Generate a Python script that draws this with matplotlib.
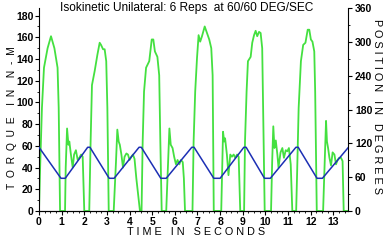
import matplotlib
matplotlib.use("Agg")
import matplotlib.pyplot as plt
from matplotlib.ticker import MultipleLocator

plt.rcParams['font.family'] = ['Liberation Sans', 'DejaVu Sans']

# torque trace (time in s, torque in N-M)
torque_t = [0.0, 0.04, 0.13, 0.22, 0.38, 0.53, 0.68, 0.82, 0.87, 0.93, 1.15, 1.18, 1.24, 1.3, 1.34,
            1.41, 1.49, 1.55, 1.63, 1.71, 1.78, 1.86, 1.93, 2.0, 2.22,
            2.28, 2.34, 2.46, 2.58, 2.68, 2.74, 2.83, 2.9, 2.97, 3.02, 3.08, 3.3, 3.4, 3.46, 3.52,
            3.57, 3.64, 3.71, 3.78, 3.86, 3.93, 4.0, 4.08, 4.15, 4.22, 4.3, 4.46,
            4.53, 4.58, 4.64, 4.73, 4.8, 4.87, 4.98, 5.05, 5.12, 5.23, 5.31, 5.36, 5.42, 5.62, 5.7,
            5.76, 5.82, 5.9, 5.97, 6.05, 6.12, 6.2, 6.27, 6.35, 6.4, 6.45, 6.78,
            6.83, 6.9, 6.98, 7.05, 7.12, 7.2, 7.32, 7.42, 7.52, 7.61, 7.67, 7.72, 8.05, 8.1, 8.13,
            8.18, 8.22, 8.3, 8.37, 8.45, 8.52, 8.6, 8.67, 8.75, 8.82, 8.89, 9.06,
            9.1, 9.17, 9.23, 9.35, 9.42, 9.5, 9.57, 9.64, 9.72, 9.79, 9.86, 9.9, 9.97, 10.25, 10.3,
            10.35, 10.4, 10.46, 10.53, 10.58, 10.67, 10.75, 10.82, 10.9, 10.97, 11.04, 11.12, 11.19, 11.36,
            11.4, 11.47, 11.57, 11.67, 11.77, 11.87, 11.94, 12.01, 12.08, 12.16, 12.2, 12.27, 12.55, 12.62,
            12.68, 12.72, 12.77, 12.83, 12.9, 12.97, 13.05, 13.12, 13.19, 13.26, 13.34, 13.41, 13.46, 13.65]
torque_v = [0, 33, 95, 132, 150, 161, 150, 132, 95, 0, 0, 40, 76, 61, 64,
            52, 40, 52, 56, 47, 49, 52, 50, 0, 0,
            64, 116, 129, 144, 155, 153, 149, 149, 138, 95, 0, 0, 45, 75, 64,
            61, 52, 40, 50, 53, 52, 47, 50, 52, 48, 30, 0,
            0, 64, 110, 132, 135, 138, 158, 158, 147, 142, 125, 64, 0, 0, 45,
            76, 61, 58, 50, 43, 47, 43, 47, 45, 30, 0, 0,
            64, 110, 141, 162, 156, 161, 170, 164, 158, 150, 125, 0, 0, 45, 73,
            64, 67, 52, 33, 52, 50, 52, 49, 52, 50, 0, 0,
            64, 110, 138, 142, 155, 162, 166, 161, 165, 164, 150, 95, 0, 0, 45,
            78, 58, 65, 52, 40, 54, 58, 49, 56, 55, 58, 43, 0, 0,
            33, 95, 138, 153, 155, 167, 167, 158, 156, 147, 110, 0, 0, 45,
            83, 64, 58, 49, 42, 54, 52, 43, 47, 49, 49, 46, 0, 0]

# position trace (time in s, degrees)
pos_t = [0.0, 0.97, 1.16, 2.15, 2.25, 3.1, 3.32, 4.42, 4.52, 5.38, 5.62, 6.75, 6.85,
         7.72, 8.0, 9.05, 9.15, 9.96, 10.22, 11.35, 11.45, 12.28, 12.52, 13.65]
pos_v = [113, 58, 58, 113, 113, 58, 58, 113, 113, 58, 58, 113, 113,
         58, 58, 113, 113, 58, 58, 113, 113, 58, 58, 112]

fig = plt.figure(figsize=(3.87, 2.40), dpi=100)
ax = fig.add_axes([39 / 387, 29 / 240, 309 / 387, 203 / 240])
ax.plot(torque_t, torque_v, color='#44e040', lw=1.3, zorder=2)
ax.set_xlim(0, 13.65)
ax.set_ylim(0, 187)
ax.xaxis.set_major_locator(MultipleLocator(1))
ax.xaxis.set_minor_locator(MultipleLocator(0.25))
ax.yaxis.set_major_locator(MultipleLocator(20))
ax.yaxis.set_minor_locator(MultipleLocator(10))
ax.spines['top'].set_visible(False)
ax.spines['right'].set_visible(False)
ax.tick_params(axis='both', which='major', length=3, width=0.8, labelsize=7.5, pad=1)
ax.tick_params(axis='both', which='minor', length=1.5, width=0.6)
for lab in ax.get_xticklabels() + ax.get_yticklabels():
    lab.set_fontweight('bold')

ax2 = ax.twinx()
ax2.plot(pos_t, pos_v, color='#1c2fb4', lw=1.1, zorder=3)
ax2.set_ylim(0, 360)
ax2.yaxis.set_major_locator(MultipleLocator(60))
ax2.yaxis.set_minor_locator(MultipleLocator(30))
ax2.spines['top'].set_visible(False)
ax2.spines['left'].set_visible(False)
ax2.tick_params(axis='y', which='major', length=3, width=0.8, labelsize=7.5, pad=2)
ax2.tick_params(axis='y', which='minor', length=1.5, width=0.6)
for lab in ax2.get_yticklabels():
    lab.set_fontweight('bold')

fig.text(0.483, 0.966, 'Isokinetic Unilateral: 6 Reps  at 60/60 DEG/SEC',
         ha='center', va='center', fontsize=8.6)
fig.text(0.031, 0.508, 'T  O  R  Q  U  E    I  N    N  -  M', rotation=90,
         ha='center', va='center', fontsize=7.4)
fig.text(0.975, 0.555, 'P O S I T I O N   I N   D E G R E E S', rotation=-90,
         ha='center', va='center', fontsize=7.8)
fig.text(0.506, 0.033, 'T I M E   I N   S E C O N D S',
         ha='center', va='center', fontsize=7.8)

fig.savefig('out.png', dpi=100)
